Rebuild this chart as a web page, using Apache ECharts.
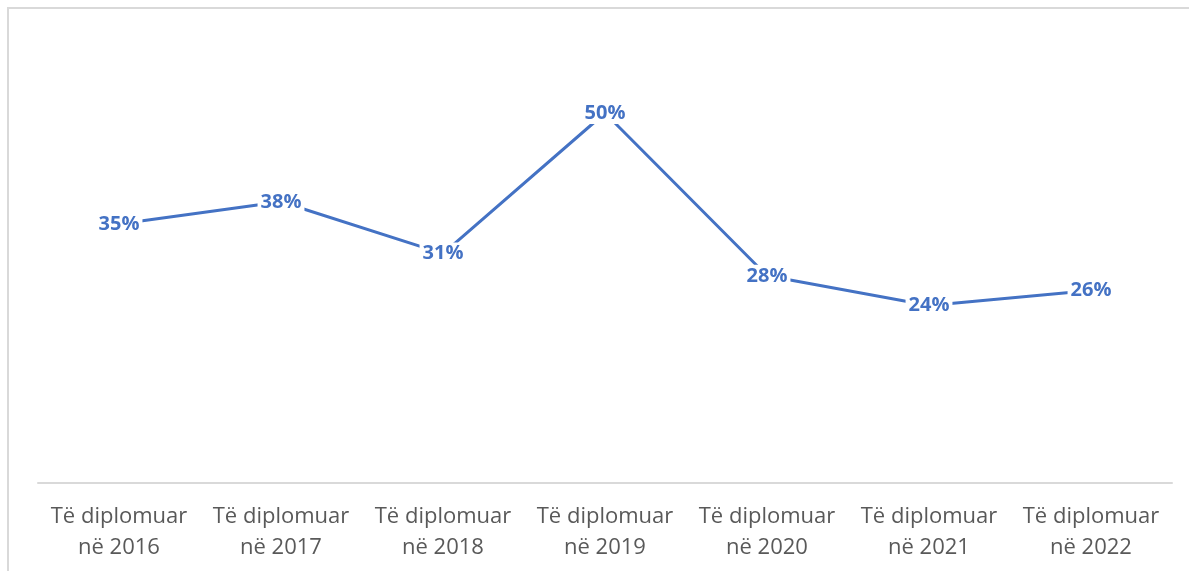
<!DOCTYPE html>
<html>
<head>
<meta charset="utf-8">
<script src="https://cdn.jsdelivr.net/npm/echarts@6/dist/echarts.min.js"></script>
<style>
  html, body { margin: 0; padding: 0; background: #fff; }
  #main { width: 1189px; height: 571px; }
</style>
</head>
<body>
<div id="main"></div>
<script>
const categories = [
  'Të diplomuar\nnë 2016',
  'Të diplomuar\nnë 2017',
  'Të diplomuar\nnë 2018',
  'Të diplomuar\nnë 2019',
  'Të diplomuar\nnë 2020',
  'Të diplomuar\nnë 2021',
  'Të diplomuar\nnë 2022'
]
const values = [35, 38, 31, 50, 28, 24, 26]

const chart = echarts.init(document.getElementById('main'))

chart.setOption({
  animation: false,
  graphic: [
    {
      type: 'polyline',
      shape: { points: [[8, 600], [8, 8], [1250, 8]] },
      style: { fill: 'none', stroke: '#d9d9d9', lineWidth: 2 },
      silent: true
    }
  ],
  grid: { left: 38, right: 17, top: 39, bottom: 88 },
  xAxis: {
    type: 'category',
    data: categories,
    axisLine: { lineStyle: { color: '#d9d9d9', width: 2 } },
    axisTick: { show: false },
    axisLabel: {
      color: '#595959',
      fontFamily: 'Open Sans',
      fontSize: 22,
      lineHeight: 31,
      margin: 18,
      interval: 0
    }
  },
  yAxis: {
    type: 'value',
    min: 0,
    max: 60,
    show: false
  },
  series: [
    {
      type: 'line',
      data: values,
      symbol: 'circle',
      symbolSize: 2,
      showSymbol: true,
      itemStyle: { color: '#4472C4' },
      lineStyle: { color: '#4472C4', width: 3 },
      label: {
        show: true,
        position: 'inside',
        formatter: '{c}%',
        color: '#4472C4',
        fontFamily: 'Open Sans',
        fontWeight: 'bold',
        fontSize: 20,
        backgroundColor: '#fff',
        padding: [1, 3]
      }
    }
  ]
})
</script>
</body>
</html>
